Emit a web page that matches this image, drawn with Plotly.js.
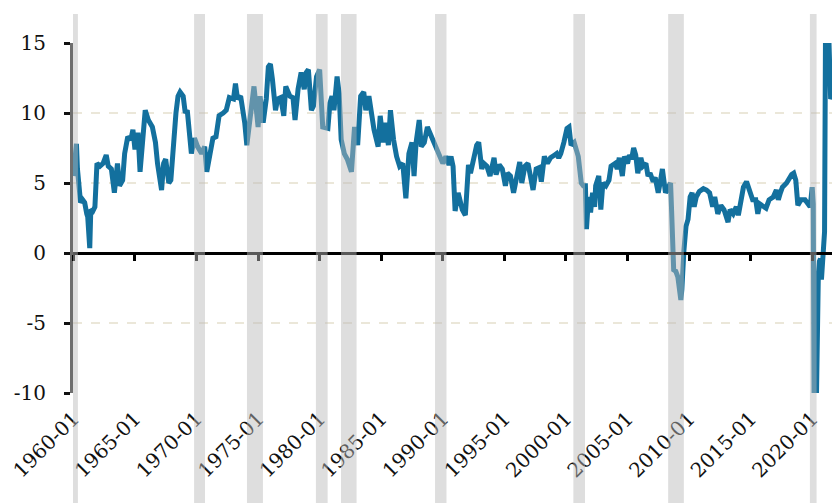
<!DOCTYPE html>
<html>
<head>
<meta charset="utf-8">
<script src="https://cdn.plot.ly/plotly-3.0.1.min.js"></script>
<style>html,body{margin:0;padding:0;background:#fff;}#chart{width:832px;height:503px;}</style>
</head>
<body>
<div id="chart"></div>
<script>
const dates = ["1960-01","1960-02","1960-04","1960-05","1960-07","1960-08","1960-10","1960-12","1961-02","1961-03","1961-05","1961-06","1961-08","1961-10","1961-12","1962-03","1962-06","1962-09","1962-11","1963-02","1963-05","1963-08","1963-10","1964-01","1964-03","1964-06","1964-09","1964-11","1965-01","1965-04","1965-06","1965-09","1965-11","1966-02","1966-04","1966-06","1966-09","1966-11","1967-03","1967-05","1967-07","1967-10","1967-12","1968-04","1968-05","1968-07","1968-09","1968-12","1969-02","1969-04","1969-06","1969-08","1969-11","1970-02","1970-06","1970-09","1970-11","1971-02","1971-05","1971-08","1971-11","1972-03","1972-06","1972-09","1973-01","1973-03","1973-05","1973-08","1973-12","1974-02","1974-06","1974-09","1975-01","1975-03","1975-06","1975-09","1975-11","1976-01","1976-03","1976-06","1976-08","1976-11","1977-02","1977-04","1977-08","1977-11","1978-01","1978-04","1978-07","1978-10","1978-12","1979-02","1979-05","1979-07","1979-10","1980-01","1980-04","1980-09","1980-11","1981-01","1981-03","1981-06","1981-08","1981-10","1982-01","1982-04","1982-08","1982-11","1983-02","1983-05","1983-08","1983-10","1984-01","1984-03","1984-06","1984-10","1984-12","1985-03","1985-05","1985-08","1985-10","1986-01","1986-04","1986-07","1986-10","1987-01","1987-04","1987-07","1987-09","1987-11","1988-02","1988-04","1988-07","1988-10","1989-02","1989-05","1989-09","1990-01","1990-04","1990-07","1990-09","1990-11","1991-01","1991-04","1991-06","1991-08","1991-11","1992-02","1992-04","1992-07","1992-10","1992-12","1993-03","1993-05","1993-08","1993-11","1994-03","1994-05","1994-08","1994-11","1995-02","1995-04","1995-07","1995-10","1996-02","1996-04","1996-06","1996-09","1996-12","1997-03","1997-05","1997-08","1997-11","1998-01","1998-04","1998-07","1998-10","1999-02","1999-04","1999-06","1999-08","1999-11","2000-02","2000-04","2000-06","2000-09","2001-01","2001-04","2001-06","2001-08","2001-09","2001-11","2002-01","2002-03","2002-05","2002-06","2002-09","2002-11","2003-01","2003-04","2003-07","2003-09","2004-01","2004-03","2004-05","2004-08","2004-10","2005-01","2005-03","2005-05","2005-07","2005-09","2005-11","2006-02","2006-04","2006-07","2006-09","2006-11","2007-02","2007-04","2007-07","2007-09","2007-11","2008-02","2008-04","2008-07","2008-08","2008-09","2008-10","2008-12","2009-02","2009-05","2009-06","2009-08","2009-10","2009-12","2010-02","2010-04","2010-06","2010-08","2010-11","2011-03","2011-06","2011-09","2011-12","2012-02","2012-05","2012-08","2012-11","2013-03","2013-05","2013-08","2013-11","2014-01","2014-04","2014-06","2014-09","2014-12","2015-03","2015-06","2015-08","2015-10","2016-02","2016-04","2016-07","2016-11","2017-02","2017-04","2017-06","2017-08","2017-12","2018-02","2018-05","2018-07","2018-09","2018-11","2019-02","2019-06","2019-09","2019-11","2020-01","2020-02","2020-03","2020-04","2020-05","2020-06","2020-07","2020-08","2020-09","2020-10","2020-11","2020-12","2021-01","2021-02","2021-03","2021-04","2021-05","2021-06","2021-07","2021-08"];
const values = [5.5,6.2,7.8,6.0,4.3,3.6,3.8,3.6,2.8,2.6,0.35,3.1,3.0,3.3,6.4,6.2,6.4,7.0,6.2,6.0,4.3,6.4,4.8,5.2,7.1,8.3,8.1,8.8,7.4,8.6,5.8,8.1,10.2,9.5,9.3,9.0,7.9,6.4,4.5,6.4,6.7,5.0,5.2,9.8,10.0,11.2,11.5,11.2,10.0,10.2,8.8,7.1,8.2,7.6,7.1,7.6,5.8,7.1,8.2,8.3,9.8,10.0,10.2,11.1,11.0,12.1,11.0,11.2,9.3,7.7,10.2,11.9,9.0,11.2,9.3,11.0,13.3,13.5,12.4,10.2,11.0,11.1,9.8,11.9,11.2,11.1,9.5,11.7,12.9,11.7,12.9,13.1,10.2,10.5,12.6,13.1,9.0,8.9,10.7,11.2,10.2,12.6,11.4,8.1,7.1,6.7,5.8,9.0,7.7,11.2,11.5,10.2,11.2,10.2,8.8,7.6,9.8,7.9,9.3,7.7,10.2,8.1,6.9,6.2,6.4,3.9,7.1,7.9,5.5,7.9,9.5,7.6,7.9,9.0,8.3,7.9,7.3,6.4,6.9,6.3,6.9,6.2,3.0,4.3,3.7,3.1,2.7,6.3,5.7,6.7,7.7,7.9,6.0,6.4,6.2,5.5,6.8,5.6,6.3,6.0,4.8,5.7,5.5,4.3,5.7,6.5,5.0,6.2,6.4,5.4,4.5,6.0,6.1,5.1,6.9,6.4,6.8,7.0,7.1,6.8,7.1,7.9,8.9,9.0,7.7,7.9,6.9,5.0,4.8,4.8,1.7,4.0,2.9,4.3,3.3,4.8,5.5,3.1,5.0,4.8,5.2,6.2,6.4,6.0,6.8,5.5,6.9,6.4,7.0,6.7,7.5,7.0,5.7,6.8,6.2,6.4,5.5,5.7,5.1,5.4,4.3,5.1,6.0,4.3,4.6,5.0,3.0,0.8,-1.2,-1.3,-1.7,-3.35,-2.6,0.2,1.9,2.4,4.0,4.3,3.3,4.0,4.4,4.6,4.5,4.3,3.3,4.0,2.8,3.4,3.1,2.2,3.1,2.8,3.3,2.7,4.2,4.7,5.1,4.5,3.8,3.8,2.8,3.5,3.3,3.2,3.8,4.0,4.5,3.8,4.3,4.7,5.0,5.3,5.6,5.7,5.2,3.4,3.8,3.8,3.5,3.3,4.7,3.5,-13,-13,-11,-2.2,-1.5,-0.6,-0.4,-1.9,-0.8,0.3,1.5,17,18,17,16,11.3,11.0,11.2];

const recStart = ["1959-09-20","1969-10-20","1974-02-05","1979-09-12","1981-09-25","1989-05-15","2000-08-08","2008-04-20","2019-10-25"];
const recEnd   = ["1960-05-15","1970-09-10","1975-05-25","1980-08-25","1983-01-01","1990-04-20","2001-07-20","2009-07-30","2020-05-10"];

const yTicks = [-10,-5,0,5,10,15];

const font = "DejaVu Serif";
const xRange = ["1959-12-21","2021-08-10"];

const shapes = recStart.map((s,i)=>({
  type:"rect", xref:"x", yref:"paper", x0:s, x1:recEnd[i], y0:-0.32, y1:1.083,
  fillcolor:"rgba(187,187,187,0.48)", line:{width:0}, layer:"above"
}));

const traces = [
  {x:dates, y:values, type:"scatter", mode:"lines", line:{color:"#13709e", width:5}, hoverinfo:"skip", xaxis:"x", yaxis:"y"},
  {x:[dates[0]], y:[null], type:"scatter", mode:"lines", xaxis:"x2", yaxis:"y", hoverinfo:"skip", showlegend:false}
];

const layout = {
  width:832, height:503,
  margin:{l:73, r:0, t:43, b:110, pad:0},
  paper_bgcolor:"#fff", plot_bgcolor:"#fff",
  showlegend:false,
  font:{family:font, size:20, color:"#111"},
  xaxis:{type:"date", range:xRange, tick0:"1960-01-01", dtick:"M60", tickformat:"%Y-%m",
    tickangle:-45, showgrid:false, zeroline:false, showline:false, ticks:"",
    tickfont:{family:font, size:20, color:"#111"}, ticklabelstandoff:9},
  xaxis2:{type:"date", overlaying:"x", anchor:"free", position:0.4, range:xRange,
    tick0:"1960-01-01", dtick:"M60", showticklabels:false, showgrid:false, zeroline:false,
    showline:true, linecolor:"#000", linewidth:3, ticks:"outside", ticklen:6, tickwidth:3, tickcolor:"#000"},
  yaxis:{range:[-10,15], tickvals:yTicks, ticktext:yTicks.map(String), showgrid:true,
    gridcolor:"#ebe7d9", griddash:"dash", gridwidth:1.5, zeroline:false,
    showline:true, linecolor:"#6e6e6e", linewidth:3, ticks:"outside", ticklen:6, tickwidth:3, tickcolor:"#111",
    tickfont:{family:font, size:20, color:"#111"}, ticklabelstandoff:14},
  shapes:shapes
};

Plotly.newPlot("chart", traces, layout, {displayModeBar:false, staticPlot:true});
</script>
</body>
</html>
